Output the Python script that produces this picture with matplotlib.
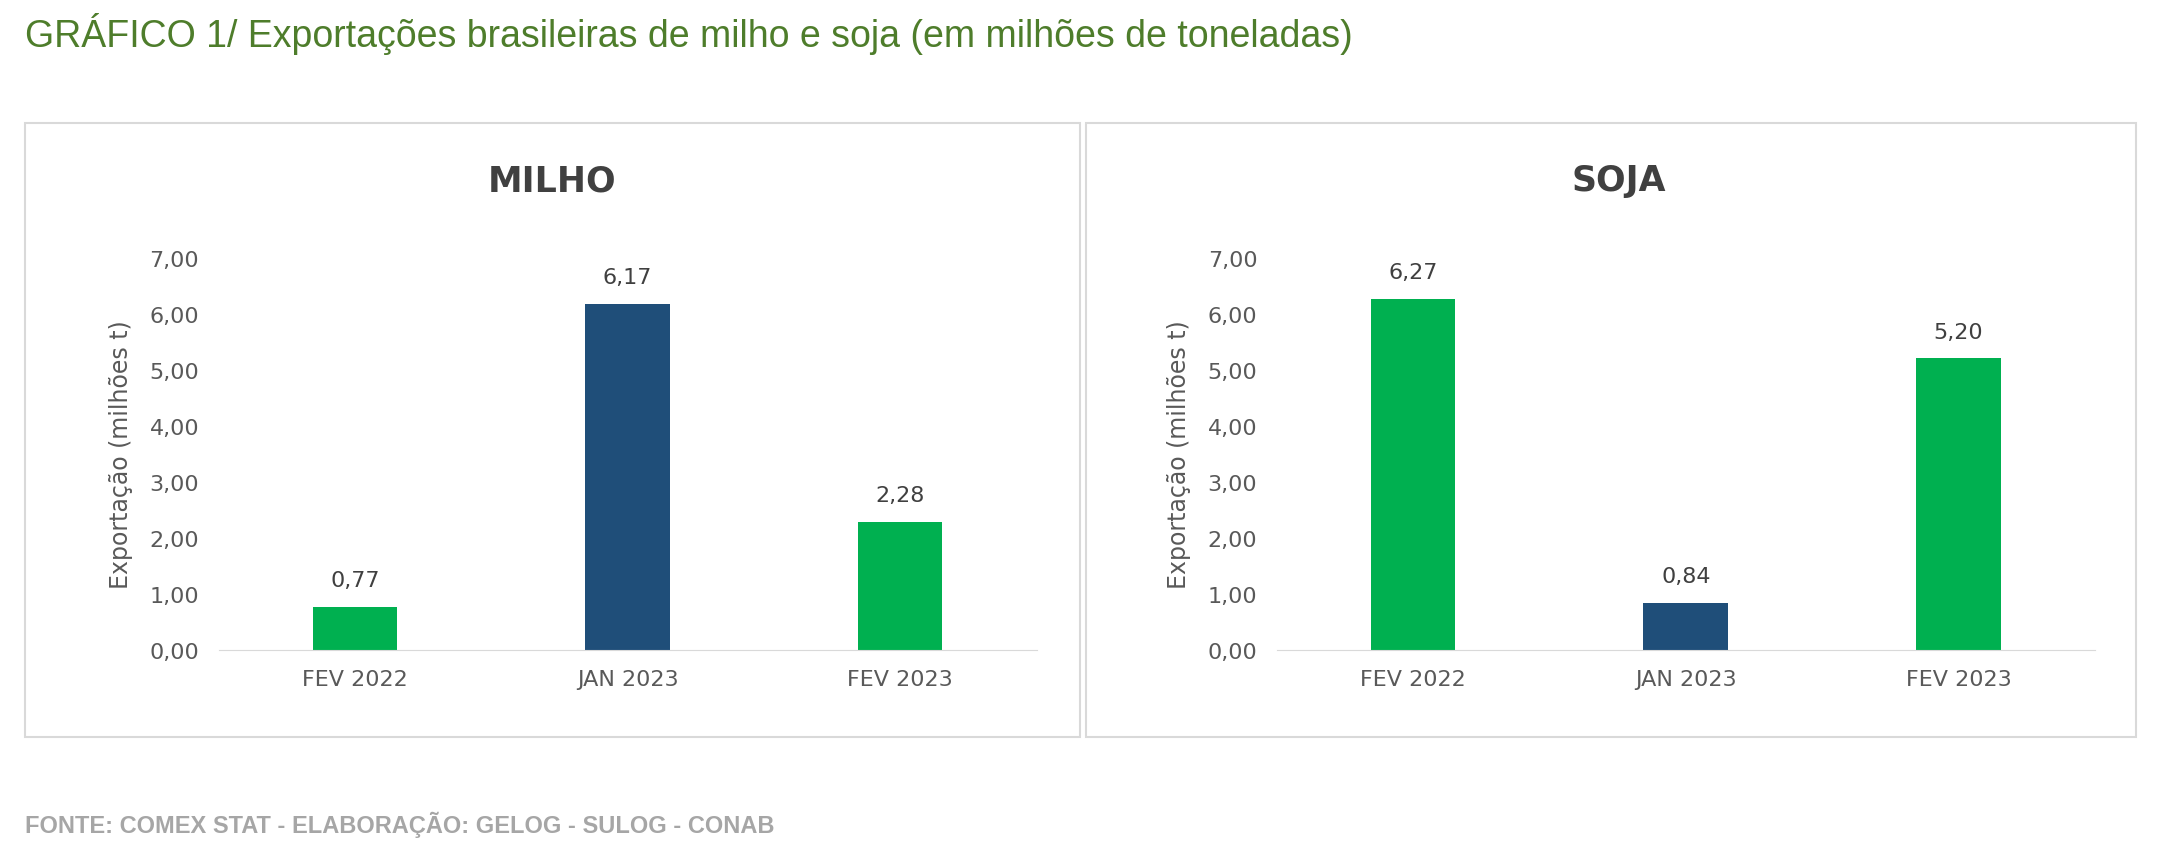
import matplotlib
matplotlib.use("Agg")
from matplotlib import pyplot as plt
from matplotlib.patches import Rectangle

categories = ["FEV 2022", "JAN 2023", "FEV 2023"]
milho = [0.77, 6.17, 2.28]
soja = [6.27, 0.84, 5.20]
labels_milho = ["0,77", "6,17", "2,28"]
labels_soja = ["6,27", "0,84", "5,20"]
yticks = [0, 1, 2, 3, 4, 5, 6, 7]
ytick_labels = ["0,00", "1,00", "2,00", "3,00", "4,00", "5,00", "6,00", "7,00"]

GREEN = "#00B050"
NAVY = "#1F4E79"
bar_colors = [GREEN, NAVY, GREEN]
TXT = "#595959"

fig = plt.figure(figsize=(21.64, 8.62), dpi=100)

fig.text(0.0115, 0.96, "GRÁFICO 1/ Exportações brasileiras de milho e soja (em milhões de toneladas)",
         color="#4E7D2B", fontsize=27, family="Liberation Sans", va="center")
fig.text(0.0115, 0.043, "FONTE: COMEX STAT - ELABORAÇÃO: GELOG - SULOG - CONAB",
         color="#A6A6A6", fontsize=17, weight="bold", family="Liberation Sans", va="center")

for x0, x1 in [(0.0115, 0.499), (0.502, 0.987)]:
    fig.add_artist(Rectangle((x0, 0.144), x1 - x0, 0.712, transform=fig.transFigure,
                             fill=False, edgecolor="#D9D9D9", lw=1.5))


def panel(rect, title, values, labels, title_x):
    ax = fig.add_axes(rect)
    ax.bar(categories, values, color=bar_colors, width=0.31)
    ax.set_ylim(0, 7)
    ax.set_xlim(-0.5, 2.5)
    ax.set_yticks(yticks)
    ax.set_yticklabels(ytick_labels)
    for s in ["top", "right", "left"]:
        ax.spines[s].set_visible(False)
    ax.spines["bottom"].set_color("#D9D9D9")
    ax.tick_params(axis="both", length=0, colors=TXT, labelsize=16, pad=14)
    ax.set_ylabel("Exportação (milhões t)", color=TXT, fontsize=17, labelpad=12)
    for i, (v, lab) in enumerate(zip(values, labels)):
        ax.text(i, v + 0.3, lab, ha="center", va="bottom", color="#404040", fontsize=16)
    fig.text(title_x, 0.79, title, ha="center", va="center", fontsize=25,
             weight="bold", color="#404040")
    return ax


panel([0.101, 0.245, 0.378, 0.455], "MILHO", milho, labels_milho, 0.255)
panel([0.590, 0.245, 0.378, 0.455], "SOJA", soja, labels_soja, 0.748)

fig.savefig("out.png", dpi=100)
